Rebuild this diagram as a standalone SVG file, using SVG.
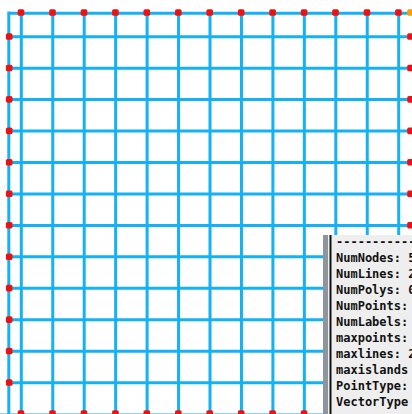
<svg xmlns="http://www.w3.org/2000/svg" width="412" height="414" viewBox="0 0 412 414">
<style>
.ln{stroke:#14b2f5;stroke-width:3;fill:none}
.txt{font-family:"DejaVu Sans Mono","Liberation Mono",monospace;font-size:12px;font-weight:bold;fill:#111}
</style>
<defs>
<rect id="dot" x="-3.3" y="-3.3" width="6.6" height="6.6" rx="1.6" fill="#ee1111"/>
<rect id="dotc" x="-3.3" y="-3.3" width="6.6" height="6.6" rx="1.6" fill="#f5a000"/>
</defs>
<rect width="412" height="414" fill="#ffffff"/>
<g id="connectors">
<path class="ln" d="M7.5 13.2H412 M8.8 11.5V414 M0 415H412"/>
<path class="ln" d="M21.3 13V414 M52.75 13V414 M84.2 13V414 M115.65 13V414 M147.1 13V414 M178.55 13V414 M210 13V414 M241.45 13V414 M272.9 13V414 M304.35 13V414 M335.8 13V414 M367.25 13V414 M398.7 13V414"/>
<path class="ln" d="M8.8 36.7H412 M8.8 68.15H412 M8.8 99.6H412 M8.8 131.05H412 M8.8 162.5H412 M8.8 193.95H412 M8.8 225.4H412 M8.8 256.85H412 M8.8 288.3H412 M8.8 319.75H412 M8.8 351.2H412 M8.8 382.65H412"/>
</g>
<g id="nodes-top">
<g id="t0"><use href="#dot" x="21" y="12.5"/></g>
<g id="t1"><use href="#dot" x="52.5" y="12.5"/></g>
<g id="t2"><use href="#dot" x="84" y="12.5"/></g>
<g id="t3"><use href="#dot" x="115.4" y="12.5"/></g>
<g id="t4"><use href="#dot" x="146.8" y="12.5"/></g>
<g id="t5"><use href="#dot" x="178.3" y="12.5"/></g>
<g id="t6"><use href="#dot" x="209.7" y="12.5"/></g>
<g id="t7"><use href="#dot" x="241.2" y="12.5"/></g>
<g id="t8"><use href="#dot" x="272.6" y="12.5"/></g>
<g id="t9"><use href="#dot" x="304.1" y="12.5"/></g>
<g id="t10"><use href="#dot" x="335.5" y="12.5"/></g>
<g id="t11"><use href="#dot" x="367" y="12.5"/></g>
<g id="t12"><use href="#dot" x="398.4" y="12.5"/></g>
<g id="corner"><use href="#dotc" x="410.5" y="12.5"/></g>
</g>
<g id="nodes-left">
<g id="l0"><use href="#dot" x="9.2" y="36.5"/></g>
<g id="l1"><use href="#dot" x="9.2" y="68"/></g>
<g id="l2"><use href="#dot" x="9.2" y="99.4"/></g>
<g id="l3"><use href="#dot" x="9.2" y="130.9"/></g>
<g id="l4"><use href="#dot" x="9.2" y="162.3"/></g>
<g id="l5"><use href="#dot" x="9.2" y="193.8"/></g>
<g id="l6"><use href="#dot" x="9.2" y="225.2"/></g>
<g id="l7"><use href="#dot" x="9.2" y="256.7"/></g>
<g id="l8"><use href="#dot" x="9.2" y="288.1"/></g>
<g id="l9"><use href="#dot" x="9.2" y="319.6"/></g>
<g id="l10"><use href="#dot" x="9.2" y="351"/></g>
<g id="l11"><use href="#dot" x="9.2" y="382.5"/></g>
</g>
<g id="nodes-right">
<g id="r0"><use href="#dot" x="410.5" y="36.5"/></g>
<g id="r1"><use href="#dot" x="410.5" y="68"/></g>
<g id="r2"><use href="#dot" x="410.5" y="99.4"/></g>
<g id="r3"><use href="#dot" x="410.5" y="130.9"/></g>
<g id="r4"><use href="#dot" x="410.5" y="162.3"/></g>
<g id="r5"><use href="#dot" x="410.5" y="193.8"/></g>
<g id="r6"><use href="#dot" x="410.5" y="225.2"/></g>
</g>
<g id="nodes-bottom">
<g id="b0"><use href="#dot" x="21" y="413.5"/></g>
<g id="b1"><use href="#dot" x="52.5" y="413.5"/></g>
<g id="b2"><use href="#dot" x="84" y="413.5"/></g>
<g id="b3"><use href="#dot" x="115.4" y="413.5"/></g>
<g id="b4"><use href="#dot" x="146.8" y="413.5"/></g>
<g id="b5"><use href="#dot" x="178.3" y="413.5"/></g>
<g id="b6"><use href="#dot" x="209.7" y="413.5"/></g>
<g id="b7"><use href="#dot" x="241.2" y="413.5"/></g>
<g id="b8"><use href="#dot" x="272.6" y="413.5"/></g>
<g id="b9"><use href="#dot" x="304.1" y="413.5"/></g>
</g>
<g id="info-panel">
<rect x="323" y="235" width="89" height="179" fill="#eeeeee"/>
<rect x="323" y="235" width="5" height="179" fill="#8c969c"/>
<rect x="329.5" y="235" width="2" height="179" fill="#111111"/>
<text class="txt" x="336" y="246">------------</text>
<text class="txt" x="336" y="262">NumNodes: 5</text>
<text class="txt" x="336" y="278">NumLines: 2</text>
<text class="txt" x="336" y="294">NumPolys: 0</text>
<text class="txt" x="336" y="310">NumPoints:</text>
<text class="txt" x="336" y="326">NumLabels:</text>
<text class="txt" x="336" y="342">maxpoints:</text>
<text class="txt" x="336" y="358">maxlines: 2</text>
<text class="txt" x="336" y="374">maxislands</text>
<text class="txt" x="336" y="390">PointType:</text>
<text class="txt" x="336" y="406">VectorType</text>
</g>
</svg>
